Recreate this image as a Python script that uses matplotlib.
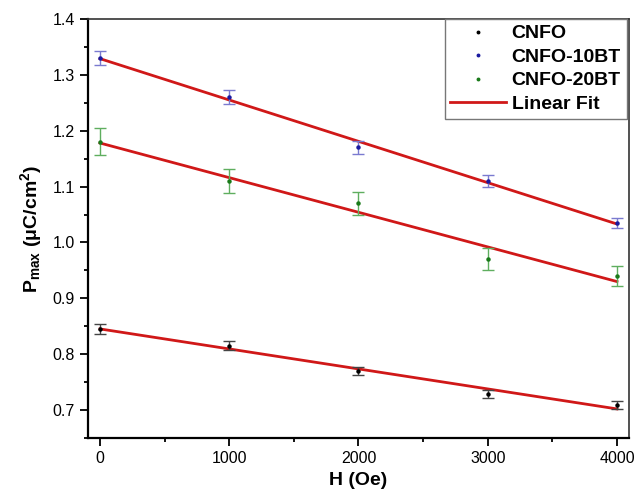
import numpy as np
import matplotlib
matplotlib.use("Agg")
import matplotlib.pyplot as plt
from matplotlib.ticker import MultipleLocator, FormatStrFormatter
from matplotlib.lines import Line2D

plt.rcParams['font.family'] = ['Liberation Sans', 'DejaVu Sans']
plt.rcParams['mathtext.fontset'] = 'custom'
plt.rcParams['mathtext.rm'] = 'Liberation Sans:bold'
plt.rcParams['mathtext.bf'] = 'Liberation Sans:bold'
plt.rcParams['mathtext.it'] = 'Liberation Sans:bold'

# field values (Oe)
field = [0, 1000, 2000, 3000, 4000]

# Pmax values and error bars
cnfo = [0.845, 0.815, 0.770, 0.729, 0.709]
cnfo_err = [0.009, 0.008, 0.007, 0.007, 0.007]
cnfo_10bt = [1.330, 1.260, 1.170, 1.110, 1.035]
cnfo_10bt_err = [0.013, 0.012, 0.011, 0.010, 0.009]
cnfo_20bt = [1.180, 1.110, 1.070, 0.970, 0.940]
cnfo_20bt_err = [0.024, 0.022, 0.020, 0.020, 0.018]

series = [
    ("CNFO", cnfo, cnfo_err, "black", "#444444"),
    ("CNFO-10BT", cnfo_10bt, cnfo_10bt_err, "#1a1aa0", "#7a7ad0"),
    ("CNFO-20BT", cnfo_20bt, cnfo_20bt_err, "#1a7a1a", "#5fae5f"),
]
fit_color = "#d01818"

fig = plt.figure(figsize=(6.44, 4.92), dpi=100)
ax = fig.add_axes([0.1366, 0.1098, 0.8401, 0.8516])

x = np.array(field)
for name, vals, errs, mcol, ecol in series:
    ax.errorbar(x, vals, yerr=errs, fmt='o', ms=2.2, color=mcol, ecolor=ecol,
                elinewidth=1.0, capsize=4, capthick=1.0, zorder=3)

# linear fits through each series
for name, vals, errs, mcol, ecol in series:
    k, b = np.polyfit(x, vals, 1)
    ax.plot(x, k * x + b, color=fit_color, lw=2.0, zorder=2)

ax.set_xlim(-93, 4093)
ax.set_ylim(0.65, 1.4)
ax.xaxis.set_major_locator(MultipleLocator(1000))
ax.xaxis.set_minor_locator(MultipleLocator(500))
ax.yaxis.set_major_locator(MultipleLocator(0.1))
ax.yaxis.set_minor_locator(MultipleLocator(0.05))
ax.yaxis.set_major_formatter(FormatStrFormatter('%.1f'))
ax.tick_params(which='both', direction='out', top=False, right=False, width=1.3)
ax.tick_params(which='major', length=5.5, labelsize=11.5, pad=4, colors='black')
ax.tick_params(which='minor', length=3)
for side in ['left', 'bottom']:
    ax.spines[side].set_linewidth(1.6)
for side in ['top', 'right']:
    ax.spines[side].set_linewidth(1.2)
    ax.spines[side].set_color('#333333')

ax.set_xlabel("H (Oe)", fontsize=14, fontweight='bold', labelpad=4)
ax.set_ylabel(r"P$_{max}$ ($\mu$C/cm$^2$)", fontsize=14, fontweight='bold', labelpad=6)

handles = [Line2D([], [], ls='none', marker='o', ms=1.8, color=s[3]) for s in series]
handles.append(Line2D([], [], color=fit_color, lw=2.0))
labels = [s[0] for s in series] + ["Linear Fit"]
leg = ax.legend(handles, labels, loc='upper right', bbox_to_anchor=(0.996, 1.0),
                borderaxespad=0, fancybox=False, framealpha=1, edgecolor='#777777',
                prop={'weight': 'bold', 'size': 14}, labelspacing=0.3,
                handlelength=2.85, handletextpad=0.3, borderpad=0.3)
leg.get_frame().set_linewidth(1.0)

fig.savefig("out.png", dpi=100)
